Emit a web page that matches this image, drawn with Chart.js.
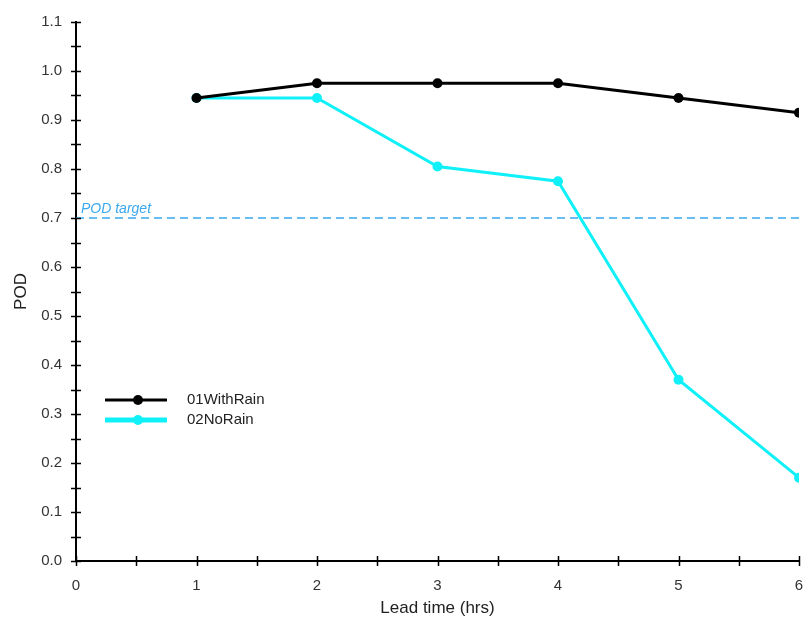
<!DOCTYPE html>
<html>
<head>
<meta charset="utf-8">
<script src="https://cdn.jsdelivr.net/npm/chart.js@4"></script>
<style>
  html, body { margin: 0; padding: 0; background: #fff; }
  #wrap { width: 804px; height: 623px; }
</style>
</head>
<body>
<div id="wrap"><canvas id="podChart"></canvas></div>
<script>
const leadTimes = [1, 2, 3, 4, 5, 6];
const withRain = [0.945, 0.975, 0.975, 0.975, 0.945, 0.915];
const noRain = [0.945, 0.945, 0.805, 0.775, 0.37, 0.17];
const seriesNames = ['01WithRain', '02NoRain'];
const podTarget = 0.7;
const xTicks = [0, 1, 2, 3, 4, 5, 6];
const yTicks = [0, 0.1, 0.2, 0.3, 0.4, 0.5, 0.6, 0.7, 0.8, 0.9, 1.0, 1.1];

const FONT = '"Liberation Sans", Arial, sans-serif';
const CYAN = '#10f0f8';
const TARGET_BLUE = '#3aa8ee';

// axis tick marks that cross the axis line, plus minor ticks
const crossTicks = {
    id: 'crossTicks',
    afterDraw(chart) {
        const { ctx, scales: { x, y }, chartArea } = chart;
        ctx.save();
        ctx.strokeStyle = '#000';
        ctx.lineWidth = 1.5;
        ctx.beginPath();
        for (let v = 0; v <= 1.1001; v += 0.05) {
            const py = Math.round(y.getPixelForValue(v)) + 0.5;
            ctx.moveTo(chartArea.left - 5, py);
            ctx.lineTo(chartArea.left + 5, py);
        }
        for (let v = 0; v <= 6.001; v += 0.5) {
            const px = Math.round(x.getPixelForValue(v)) + 0.5;
            ctx.moveTo(px, chartArea.bottom - 5);
            ctx.lineTo(px, chartArea.bottom + 5);
        }
        ctx.stroke();

        // POD target label
        ctx.fillStyle = TARGET_BLUE;
        ctx.font = 'italic 14px ' + FONT;
        ctx.textBaseline = 'alphabetic';
        ctx.fillText('POD target', chartArea.left + 5, y.getPixelForValue(podTarget) - 5);

        // legend inside the plot
        const items = chart.data.datasets.slice(0, 2);
        items.forEach((ds, i) => {
            const ly = 400 + i * 20;
            ctx.strokeStyle = ds.borderColor;
            ctx.lineWidth = i === 0 ? 3 : 5;
            ctx.beginPath();
            ctx.moveTo(105, ly);
            ctx.lineTo(167, ly);
            ctx.stroke();
            ctx.fillStyle = ds.borderColor;
            ctx.beginPath();
            ctx.arc(138, ly, 5, 0, Math.PI * 2);
            ctx.fill();
            ctx.fillStyle = '#222';
            ctx.font = '15px ' + FONT;
            ctx.textBaseline = 'middle';
            ctx.fillText(ds.label, 187, ly);
        });
        ctx.restore();
    },
};

const ctxPod = document.getElementById('podChart').getContext('2d');
const podChart = new Chart(ctxPod, {
    type: 'line',
    data: {
        datasets: [
            {
                label: seriesNames[0],
                data: leadTimes.map((t, i) => ({ x: t, y: withRain[i] })),
                borderColor: '#000',
                backgroundColor: '#000',
                borderWidth: 3,
                pointRadius: 5,
                pointBorderWidth: 0,
                tension: 0,
            },
            {
                label: seriesNames[1],
                data: leadTimes.map((t, i) => ({ x: t, y: noRain[i] })),
                borderColor: CYAN,
                backgroundColor: CYAN,
                borderWidth: 3,
                pointRadius: 5,
                pointBorderWidth: 0,
                tension: 0,
            },
            {
                label: 'POD target',
                data: [{ x: 0, y: podTarget }, { x: 6, y: podTarget }],
                borderColor: TARGET_BLUE,
                borderWidth: 1.5,
                borderDash: [8, 5],
                pointRadius: 0,
            },
        ],
    },
    plugins: [crossTicks],
    options: {
        responsive: true,
        maintainAspectRatio: false,
        animation: false,
        layout: {
            padding: { top: 22, right: 4, left: 7, bottom: 0 },
        },
        scales: {
            x: {
                type: 'linear',
                min: 0,
                max: 6,
                afterBuildTicks: (scale) => {
                    scale.ticks = xTicks.map((v) => ({ value: v }));
                },
                afterFit: (scale) => {
                    scale.height = 62;
                    scale.paddingLeft = 0;
                    scale.paddingRight = 0;
                },
                ticks: {
                    color: '#333',
                    padding: 8,
                    maxRotation: 0,
                    font: { family: FONT, size: 15 },
                },
                grid: { display: false },
                border: { color: '#000', width: 2 },
                title: {
                    display: true,
                    text: 'Lead time (hrs)',
                    color: '#222',
                    padding: { top: 6 },
                    font: { family: FONT, size: 17 },
                },
            },
            y: {
                min: 0,
                max: 1.1,
                afterBuildTicks: (scale) => {
                    scale.ticks = yTicks.map((v) => ({ value: v }));
                },
                afterFit: (scale) => {
                    scale.width = 69;
                },
                ticks: {
                    color: '#333',
                    padding: 6,
                    font: { family: FONT, size: 15 },
                    callback: (v) => Number(v).toFixed(1),
                },
                grid: { display: false },
                border: { color: '#000', width: 2 },
                title: {
                    display: true,
                    text: 'POD',
                    color: '#222',
                    padding: { bottom: 4 },
                    font: { family: FONT, size: 17 },
                },
            },
        },
        plugins: {
            legend: { display: false },
            tooltip: { enabled: false },
        },
    },
});
</script>
</body>
</html>
